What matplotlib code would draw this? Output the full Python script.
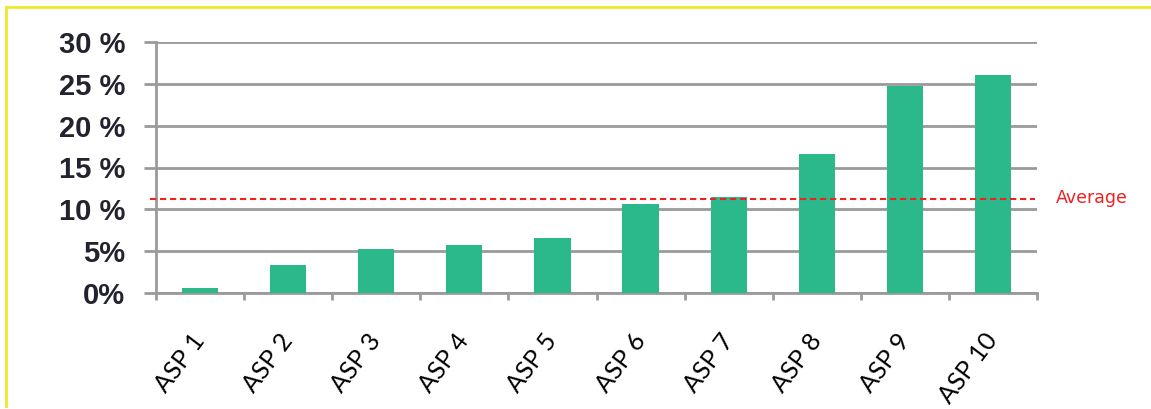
import matplotlib
matplotlib.use("Agg")
import matplotlib.pyplot as plt
from matplotlib.lines import Line2D
import numpy as np

categories = ["ASP 1", "ASP 2", "ASP 3", "ASP 4", "ASP 5",
              "ASP 6", "ASP 7", "ASP 8", "ASP 9", "ASP 10"]
values = [0.6, 3.4, 5.3, 5.7, 6.6, 10.6, 11.5, 16.6, 24.7, 26.1]
average = 11.2
yticks = [0, 5, 10, 15, 20, 25, 30]
ytick_labels = ["0%", "5%", "10 %", "15 %", "20 %", "25 %", "30 %"]

W, H = 1151, 409
fig = plt.figure(figsize=(W / 100, H / 100), dpi=100)
ax = fig.add_axes([156 / W, (H - 293) / H, (1037 - 156) / W, (293 - 42) / H])

x = np.arange(len(categories))
ax.bar(x, values, width=0.41, color="#2bb88a", zorder=3)

ax.set_xlim(-0.5, len(categories) - 0.5)
ax.set_ylim(0, 30)

# gridlines
ax.set_yticks(yticks)
ax.set_yticklabels(ytick_labels, fontfamily="Liberation Sans", fontweight="bold",
                   fontsize=21, color="#23232f")
ax.yaxis.grid(True, color="#9a9a9a", linewidth=2, zorder=1)
ax.tick_params(axis="y", length=8.5, width=2, color="#9a9a9a", pad=13.5)

# x ticks at boundaries, labels at centers
ax.set_xticks(np.arange(len(categories) + 1) - 0.5)
ax.set_xticklabels([])
ax.set_xticks(x, minor=True)
ax.set_xticklabels(categories, minor=True, rotation=53, ha="right", va="center",
                   rotation_mode="anchor", fontfamily="Lato", fontsize=18, color="black")
ax.tick_params(axis="x", which="major", length=5, width=2, color="#9a9a9a", direction="out")
ax.tick_params(axis="x", which="minor", length=0, pad=31)

for s in ["top", "right"]:
    ax.spines[s].set_visible(False)
for s in ["left", "bottom"]:
    ax.spines[s].set_color("#9a9a9a")
    ax.spines[s].set_linewidth(2)

# average line
ax.plot([-0.57, 9.48], [average, average], color="#ee2222", linestyle=(0, (3, 1.8)),
        linewidth=1.5, zorder=4, clip_on=False)
ax.text(1056 / W, (H - 198) / H, "Average", transform=fig.transFigure, color="#ee2222",
        fontsize=12.5, ha="left", va="center")

# yellow border
fig.add_artist(Line2D([6 / W, 1], [(H - 7) / H, (H - 7) / H], color="#f0e82a",
                      linewidth=2, transform=fig.transFigure))
fig.add_artist(Line2D([6 / W, 6 / W], [(H - 7) / H, (H - 406) / H], color="#f0e82a",
                      linewidth=2, transform=fig.transFigure))

fig.savefig("out.png", dpi=100)
